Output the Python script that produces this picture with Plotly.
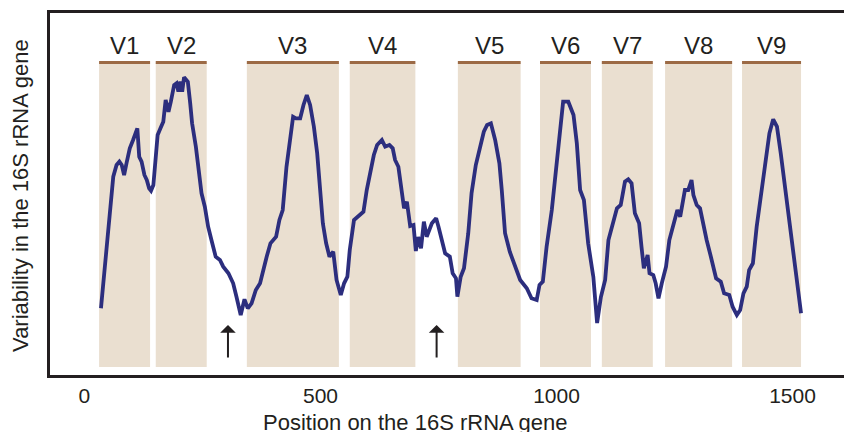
import plotly.graph_objects as go

# Sequence variability along the 16S rRNA gene (position in bp, variability score)
position = [35, 43, 54, 61, 68, 74, 79, 84, 89, 96, 103, 112, 116, 121, 127, 132, 137, 141, 146,
            151, 155, 161, 167, 172, 178, 183, 190, 195, 199, 203, 207, 211, 219, 224, 228, 236,
            243, 248, 255, 262, 269, 278, 287, 294, 305, 315, 322, 331, 339, 346, 354, 363, 372,
            379, 386, 394, 406, 413, 420, 428, 435, 442, 448, 457, 464, 471, 478, 486, 493, 499,
            505, 512, 519, 527, 534, 543, 550, 557, 562, 571, 578, 591, 598, 606, 613, 620, 630,
            637, 646, 653, 658, 665, 672, 677, 683, 690, 697, 702, 707, 713, 719, 725, 736, 745,
            750, 757, 764, 774, 780, 787, 790, 797, 804, 813, 820, 829, 838, 846, 853, 861, 870,
            879, 884, 891, 901, 912, 923, 937, 947, 958, 964, 971, 979, 990, 999, 1007, 1014,
            1025, 1036, 1043, 1050, 1058, 1067, 1078, 1086, 1094, 1103, 1110, 1117, 1128, 1136,
            1145, 1152, 1159, 1166, 1175, 1180, 1185, 1190, 1193, 1197, 1205, 1210, 1216, 1223,
            1232, 1239, 1247, 1256, 1262, 1267, 1272, 1279, 1286, 1290, 1297, 1304, 1311, 1318,
            1327, 1338, 1348, 1355, 1366, 1373, 1382, 1389, 1396, 1403, 1408, 1416, 1424, 1433,
            1442, 1451, 1459, 1467, 1475, 1484, 1493, 1503, 1512, 1518]
variability = [66.7, 108.3, 158.3, 198.3, 210, 213.3, 210, 200, 211.7, 226.7, 235, 246.7, 218.3,
               213.3, 200, 195, 186.7, 184.3, 190, 218.3, 240, 246.7, 253.3, 275, 263.3, 273.3,
               290, 291.7, 283.3, 293.3, 283.3, 297.7, 293.3, 271.7, 251.7, 228.3, 201.7, 181.7,
               168.3, 148.3, 135, 118.3, 115, 108.3, 101.7, 91.7, 78.3, 60, 75.7, 66.7, 71.7, 85,
               91.7, 103.3, 118.3, 131.7, 138.3, 155, 165, 208.3, 236.7, 258.3, 256.7, 256.7, 270,
               280, 270, 248.3, 221.7, 188.3, 151.7, 131.7, 118.3, 123.3, 95, 80, 91.7, 98.3, 125,
               155, 158.3, 163.3, 185, 205, 220, 230, 235, 228.3, 230, 226.7, 215, 208.3, 185,
               166.7, 173.3, 149, 150, 124, 138, 126.7, 153.3, 138.3, 151.7, 156.7, 148.3, 136.7,
               121.7, 118.3, 101.7, 96.7, 78.3, 98.3, 106.7, 141.7, 181.7, 210, 230, 243.3, 250,
               251.7, 235, 211.7, 185, 141.7, 123.3, 110, 95, 86.7, 76.7, 75, 90, 93.3, 128.3, 165,
               208.3, 248.3, 273.3, 273.3, 260, 231.7, 185, 175, 131.7, 98, 52, 78, 95, 135, 148.3,
               166.7, 170, 193.3, 195.7, 191.7, 161.7, 151.7, 128.3, 106.7, 115, 120, 101.7, 100,
               91.7, 76.7, 91.7, 108.3, 135, 148.3, 165, 158.3, 175, 185, 185, 195, 180, 170,
               166.7, 148.3, 135, 118.3, 96.7, 93.3, 81.7, 80, 68.3, 60, 65, 81.7, 88.3, 105,
               111.7, 148.3, 181.7, 213.3, 241.7, 255.7, 248.3, 221.7, 188.3, 155, 118.3, 78.3,
               61.7]

# Hypervariable regions V1-V9 (start, end in bp)
region_names = ["V1", "V2", "V3", "V4", "V5", "V6", "V7", "V8", "V9"]
region_start = [31, 151, 344, 562, 791, 965, 1096, 1230, 1393]
region_end = [139, 259, 539, 701, 924, 1073, 1204, 1372, 1518]

# Conserved positions marked with arrows
arrow_positions = [304, 746]

x_ticks = [0, 500, 1000, 1500]

INK = "#231F20"
FONT = "Liberation Sans, Arial, sans-serif"
BAND = "#EADFD0"
BAND_EDGE = "#9C6A45"
CURVE = "#2C2E7E"

band_bottom, band_top = 8, 312.5

fig = go.Figure()

shapes = []
annotations = []
for name, x0, x1 in zip(region_names, region_start, region_end):
    shapes.append(dict(type="rect", xref="x", yref="y", x0=x0, x1=x1,
                       y0=band_bottom, y1=band_top, fillcolor=BAND,
                       line=dict(width=0), layer="below"))
    shapes.append(dict(type="line", xref="x", yref="y", x0=x0, x1=x1,
                       y0=band_top, y1=band_top, line=dict(color=BAND_EDGE, width=3),
                       layer="below"))
    annotations.append(dict(x=(x0 + x1) / 2, y=330, xref="x", yref="y", text=name,
                            showarrow=False, yanchor="middle",
                            font=dict(family=FONT, size=24, color=INK)))

for xa in arrow_positions:
    annotations.append(dict(x=xa, y=50, xref="x", yref="y", text="", showarrow=True,
                            ax=0, ay=34, axref="pixel", ayref="pixel",
                            arrowhead=1, arrowsize=1.3, arrowwidth=2, arrowcolor=INK))

annotations.append(dict(x=702, y=-0.13, xref="x", yref="paper",
                        text="Position on the 16S rRNA gene", showarrow=False,
                        xanchor="center", yanchor="middle",
                        font=dict(family=FONT, size=22, color=INK)))
annotations.append(dict(x=-0.038, y=0.497, xref="paper", yref="paper",
                        text="Variability in the 16S rRNA gene", showarrow=False,
                        textangle=-90, xanchor="center", yanchor="middle",
                        font=dict(family=FONT, size=22, color=INK)))

fig.add_trace(go.Scatter(x=position, y=variability, mode="lines",
                         line=dict(color=CURVE, width=3.8), hoverinfo="skip",
                         showlegend=False))

fig.update_layout(
    width=844, height=432,
    margin=dict(l=50, r=0, t=13, b=57),
    paper_bgcolor="white", plot_bgcolor="white",
    shapes=shapes, annotations=annotations,
    xaxis=dict(range=[-73, 1609], tickvals=x_ticks, ticktext=[str(v) for v in x_ticks],
               showgrid=False, zeroline=False, showline=True, mirror=True,
               linecolor=INK, linewidth=2.6, ticks="", ticklabelstandoff=0,
               tickfont=dict(family=FONT, size=21, color=INK)),
    yaxis=dict(range=[0, 362], showticklabels=False, showgrid=False, zeroline=False,
               showline=True, linecolor=INK, linewidth=2.6, ticks=""),
)

fig.write_html("out.html")
